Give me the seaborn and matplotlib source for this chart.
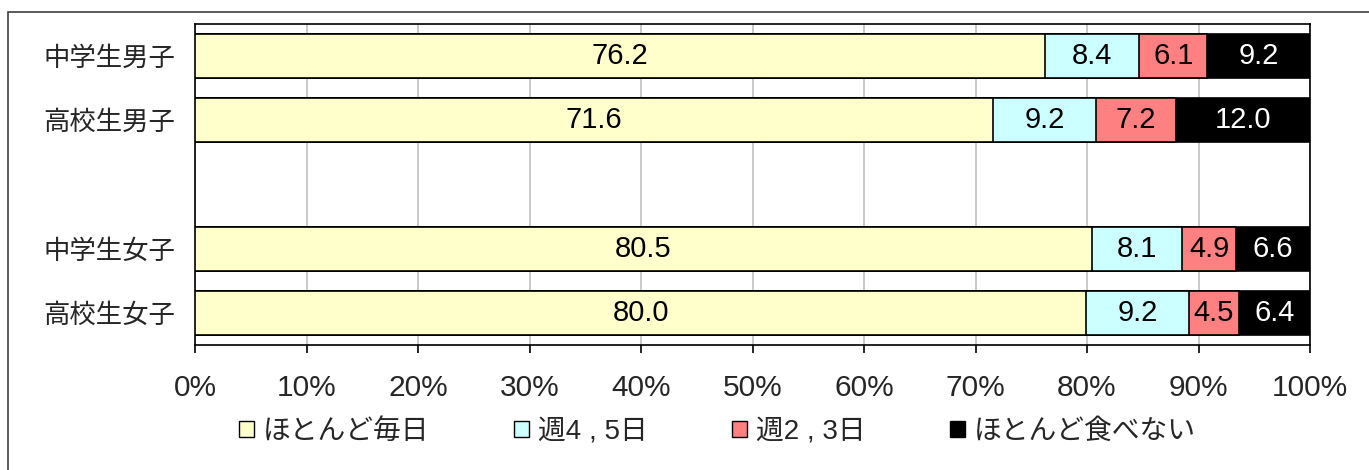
import seaborn as sns
import pandas as pd
import numpy as np
import matplotlib
matplotlib.use('Agg')
import matplotlib.pyplot as plt
from matplotlib.patches import Patch, Rectangle

groups = ['中学生男子', '高校生男子', ' ', '中学生女子', '高校生女子']
rows = ['中学生男子', '高校生男子', '中学生女子', '高校生女子']
series = ['ほとんど毎日', '週4 , 5日', '週2 , 3日', 'ほとんど食べない']
everyday = [76.2, 71.6, 80.5, 80.0]
week45 = [8.4, 9.2, 8.1, 9.2]
week23 = [6.1, 7.2, 4.9, 4.5]
never = [9.2, 12.0, 6.6, 6.4]
colors = ['#FFFFCC', '#CCFFFF', '#FF8080', '#000000']
text_colors = ['black', 'black', 'black', 'white']

sns.set_style('white')
plt.rcParams['font.family'] = ['Liberation Sans', 'Noto Sans CJK JP', 'DejaVu Sans']

df = pd.DataFrame({'group': rows, series[0]: everyday, series[1]: week45,
                   series[2]: week23, series[3]: never})
vals = df[series].to_numpy()
# 100% stacked: scale each row to its total
share = vals / vals.sum(axis=1, keepdims=True) * 100
cum = np.cumsum(share, axis=1)

fig = plt.figure(figsize=(13.69, 4.70), dpi=100)
ax = fig.add_axes([195 / 1369, 1 - 345 / 470, 1115 / 1369, 321 / 470])

# draw cumulative bars from the longest to the shortest so they stack
for i in reversed(range(len(series))):
    sns.barplot(x=cum[:, i], y=df['group'], order=groups, orient='h',
                color=colors[i], edgecolor='black', linewidth=1.2,
                width=0.68, saturation=1, ax=ax, zorder=3)

pos = {g: k for k, g in enumerate(groups)}
for r, g in enumerate(rows):
    for i in range(len(series)):
        left = cum[r, i] - share[r, i]
        ax.text(left + share[r, i] / 2, pos[g], f'{vals[r, i]:.1f}',
                ha='center', va='center', fontsize=21,
                color=text_colors[i], zorder=5)

ax.set_xlim(0, 100)
ax.set_ylim(len(groups) - 0.5, -0.5)
ax.set_xticks(np.arange(0, 101, 10))
ax.set_xticklabels([f'{t}%' for t in range(0, 101, 10)])
ax.set_xlabel('')
ax.set_ylabel('')
ax.xaxis.grid(True, color='#c0c0c0', linewidth=1.2, zorder=0)
ax.yaxis.grid(False)
ax.set_axisbelow(True)
for s in ax.spines.values():
    s.set_visible(True)
    s.set_color('black')
    s.set_linewidth(1.2)
ax.tick_params(axis='x', labelsize=21.5, length=6, width=1.2, color='black',
               direction='out', bottom=True, pad=15)
ax.tick_params(axis='y', labelsize=19, length=0, pad=14)

handles = [Patch(facecolor=c, edgecolor='black', linewidth=1) for c in colors]
fig.legend(handles, series, loc='center', bbox_to_anchor=(0.524, 0.081),
           ncol=4, frameon=False, fontsize=20, handlelength=0.55,
           handleheight=0.55, handletextpad=0.3, columnspacing=3.05,
           borderaxespad=0)

fig.patches.append(Rectangle((8 / 1369, -0.1), 1.2, 1 - 12 / 470 + 0.1,
                             transform=fig.transFigure, fill=False,
                             edgecolor='#404040', linewidth=1.2))

fig.savefig('out.png', dpi=100)
